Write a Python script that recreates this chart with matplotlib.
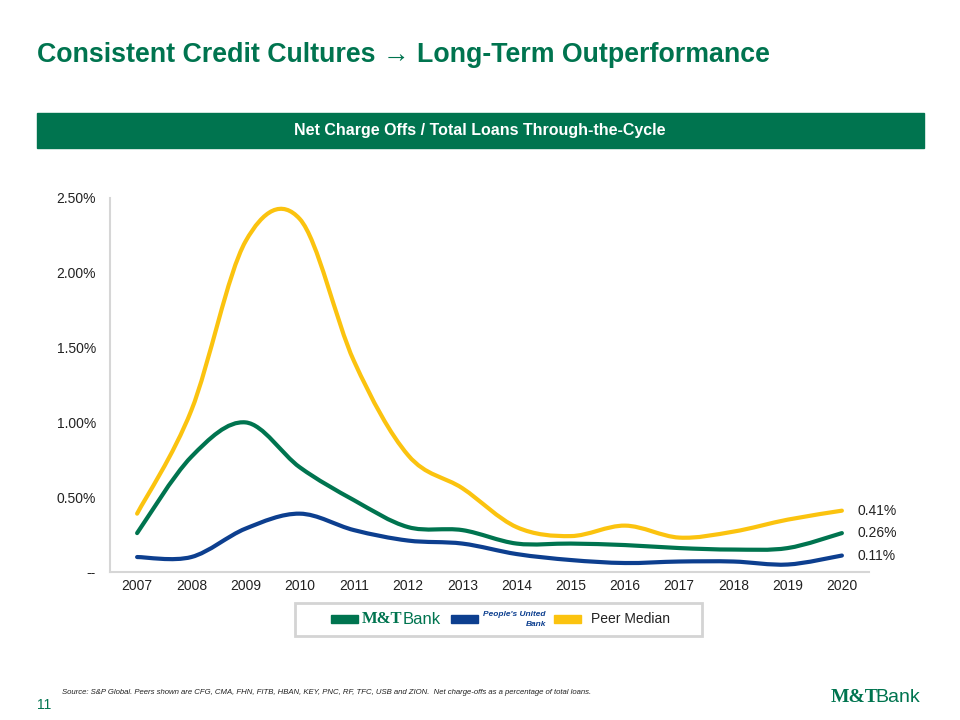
import numpy as np
import matplotlib.pyplot as plt
from matplotlib.path import Path
from matplotlib.patches import PathPatch, Rectangle

years = ["2007", "2008", "2009", "2010", "2011", "2012", "2013",
         "2014", "2015", "2016", "2017", "2018", "2019", "2020"]
# net charge offs / total loans, in %
mtb = [0.26, 0.77, 1.00, 0.70, 0.48, 0.30, 0.28, 0.19, 0.19, 0.18, 0.16, 0.15, 0.16, 0.26]
pbct = [0.10, 0.10, 0.29, 0.39, 0.28, 0.21, 0.19, 0.12, 0.08, 0.06, 0.07, 0.07, 0.05, 0.11]
peer = [0.39, 1.08, 2.21, 2.36, 1.41, 0.78, 0.56, 0.30, 0.24, 0.31, 0.23, 0.27, 0.35, 0.41]
end_labels = ["0.26%", "0.11%", "0.41%"]

GREEN = "#00744F"
BLUE = "#0D3F8F"
YELLOW = "#FBC30F"
FONT = "Liberation Sans"
plt.rcParams["font.family"] = [FONT, "DejaVu Sans"]


def smooth_path(xs, ys):
    # excel style smoothed line: cubic bezier through every point
    pts = np.column_stack([xs, ys]).astype(float)
    n = len(pts)
    verts = [pts[0]]
    codes = [Path.MOVETO]
    for i in range(n - 1):
        p0 = pts[max(i - 1, 0)]
        p1 = pts[i]
        p2 = pts[i + 1]
        p3 = pts[min(i + 2, n - 1)]
        c1 = p1 + (p2 - p0) / 6.0
        c2 = p2 - (p3 - p1) / 6.0
        verts += [c1, c2, p2]
        codes += [Path.CURVE4] * 3
    return Path(verts, codes)


fig = plt.figure(figsize=(9.6, 7.2), dpi=100)

# title
fig.text(37 / 960, 1 - 55 / 720, "Consistent Credit Cultures \u2192 Long-Term Outperformance",
         color=GREEN, fontsize=19.3, fontweight="bold", va="center", ha="left")

# header band
fig.patches.append(Rectangle((37 / 960, 1 - 148 / 720), (924 - 37) / 960, 35 / 720,
                             transform=fig.transFigure, color=GREEN, zorder=0))
fig.text(480 / 960, 1 - 131 / 720, "Net Charge Offs / Total Loans Through-the-Cycle",
         color="white", fontsize=11.5, fontweight="bold", ha="center", va="center")

ax = fig.add_axes([110 / 960, 1 - 572 / 720, (869 - 110) / 960, (572 - 198) / 720])
x = np.arange(len(years))
for vals, col in [(mtb, GREEN), (pbct, BLUE), (peer, YELLOW)]:
    ax.add_patch(PathPatch(smooth_path(x, vals), fill=False, edgecolor=col, lw=3,
                           capstyle="round", joinstyle="round"))

for vals, lab in zip([mtb, pbct, peer], end_labels):
    ax.annotate(lab, (x[-1], vals[-1]), xytext=(11, 0), textcoords="offset points",
                va="center", ha="left", fontsize=10, color="#222222", annotation_clip=False)

ax.set_xlim(-0.5, len(years) - 0.5)
ax.set_ylim(0, 2.5)
ax.set_xticks(x)
ax.set_xticklabels(years)
ax.set_yticks([0, 0.5, 1.0, 1.5, 2.0, 2.5])
ax.set_yticklabels(["--", "0.50%", "1.00%", "1.50%", "2.00%", "2.50%"])
ax.tick_params(length=0, labelsize=10, colors="#222222")
ax.tick_params(axis="x", pad=5)
ax.tick_params(axis="y", pad=10)
for s in ["top", "right"]:
    ax.spines[s].set_visible(False)
for s in ["left", "bottom"]:
    ax.spines[s].set_color("#d6d6d6")
    ax.spines[s].set_linewidth(1.5)

# legend box
fig.patches.append(Rectangle((295 / 960, 1 - 636 / 720), 407 / 960, 33 / 720,
                             transform=fig.transFigure, facecolor="white",
                             edgecolor="#d4d4d4", lw=2))
ly = 1 - 619 / 720
for x0, col in [(331, GREEN), (451, BLUE), (554, YELLOW)]:
    fig.patches.append(Rectangle((x0 / 960, 1 - 623 / 720), 27 / 960, 8 / 720,
                                 transform=fig.transFigure, color=col))
fig.text(362 / 960, ly, "M&T", family="Liberation Serif", fontweight="bold",
         fontsize=12, color=GREEN, va="center")
fig.text(403 / 960, ly, "Bank", fontsize=12, color=GREEN, va="center")
fig.text(483 / 960, 1 - 615 / 720, "People's United", fontstyle="italic",
         fontweight="bold", fontsize=6, color=BLUE, va="center")
fig.text(546 / 960, 1 - 624 / 720, "Bank", fontstyle="italic", fontweight="bold",
         fontsize=6, color=BLUE, va="center", ha="right")
fig.text(591 / 960, ly, "Peer Median", fontsize=10, color="#222222", va="center")

# footer
fig.text(62 / 960, 1 - 692 / 720,
         "Source: S&P Global. Peers shown are CFG, CMA, FHN, FITB, HBAN, KEY, PNC, RF, TFC, USB and ZION.  "
         "Net charge-offs as a percentage of total loans.",
         fontsize=5.6, fontstyle="italic", color="#222222", va="center")
fig.text(37 / 960, 1 - 705 / 720, "11", fontsize=10, color=GREEN, va="center")
fig.text(831 / 960, 1 - 698 / 720, "M&T", family="Liberation Serif", fontweight="bold",
         fontsize=14, color=GREEN, va="center")
fig.text(875 / 960, 1 - 698 / 720, "Bank", fontsize=14, color=GREEN, va="center")

fig.savefig("out.png", dpi=100)
